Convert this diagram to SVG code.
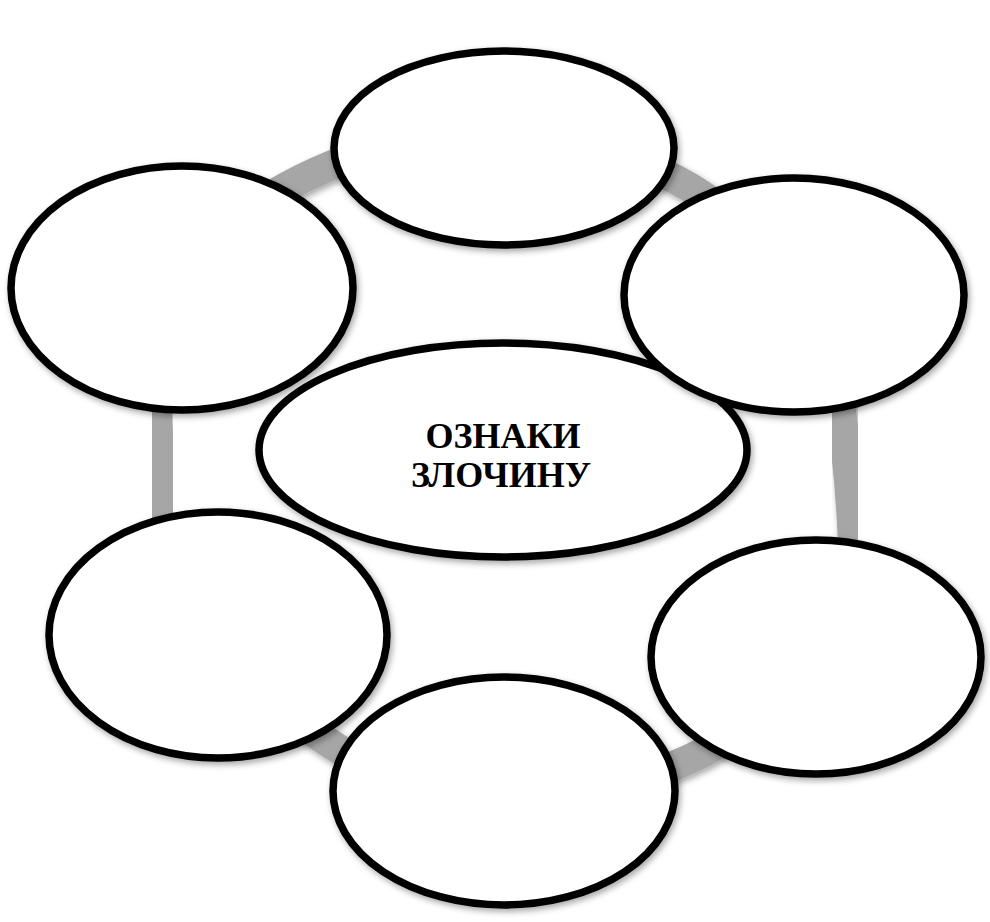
<svg xmlns="http://www.w3.org/2000/svg" width="990" height="922" viewBox="0 0 990 922">
<defs>
<filter id="sh" x="-20%" y="-20%" width="140%" height="140%">
<feDropShadow dx="2" dy="3" stdDeviation="3" flood-color="#000" flood-opacity="0.35"/>
</filter>
</defs>
<style>
.node ellipse{fill:#fff;stroke:#000;stroke-width:7.5;filter:url(#sh)}
.ring path{fill:none;stroke:#a6a6a6;stroke-width:30;filter:url(#sh)}
.label{font-family:"Liberation Serif","Times New Roman",serif;font-weight:bold;font-size:36px;fill:#000;text-anchor:middle}
</style>
<rect width="990" height="922" fill="#fff"/>
<g id="connectors" class="ring">
<path d="M 230 225 Q 285 180 360 155"/>
<path d="M 640 165 Q 690 180 740 225"/>
<path d="M 836 380 Q 852 470 854 580"/>
<path d="M 630 780 Q 690 765 740 730"/>
<path d="M 290 715 Q 335 750 385 775"/>
<path d="M 155 380 Q 158 460 170 540"/>
</g>
<g id="center" class="node">
<ellipse cx="503" cy="450" rx="244" ry="107"/>
<text class="label" x="503" y="448">ОЗНАКИ</text>
<text class="label" x="501" y="487">ЗЛОЧИНУ</text>
</g>
<g id="n-top" class="node"><ellipse cx="504" cy="148" rx="170" ry="97"/></g>
<g id="n-right-top" class="node"><ellipse cx="794" cy="295" rx="170" ry="117"/></g>
<g id="n-right-bottom" class="node"><ellipse cx="816" cy="657" rx="165" ry="117"/></g>
<g id="n-bottom" class="node"><ellipse cx="504" cy="791" rx="171" ry="114"/></g>
<g id="n-left-bottom" class="node"><ellipse cx="218" cy="635" rx="169" ry="123"/></g>
<g id="n-left-top" class="node"><ellipse cx="182" cy="288" rx="171" ry="122"/></g>
</svg>
